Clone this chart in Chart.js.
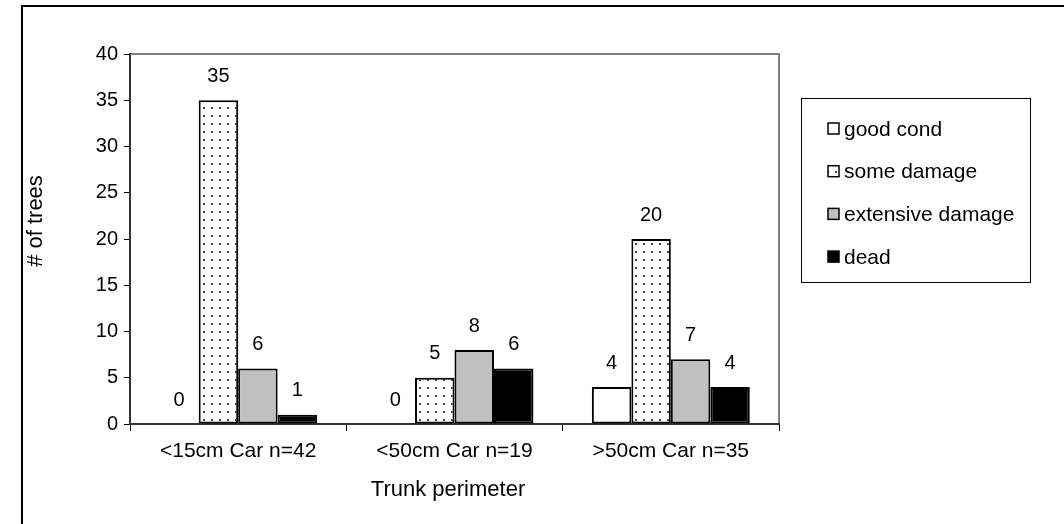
<!DOCTYPE html>
<html lang="en">
<head>
    <meta charset="UTF-8">
    <title>Tree condition by trunk perimeter</title>
    <script src="https://cdn.jsdelivr.net/npm/chart.js"></script>
    <style>
        html, body { margin: 0; padding: 0; background: #fff; }
        #wrap { width: 1064px; height: 524px; }
    </style>
</head>
<body>
    <div id="wrap"><canvas id="grafico"></canvas></div>
    <script>
        // Datos
        const categories = ['<15cm Car n=42', '<50cm Car n=19', '>50cm Car n=35'];
        const seriesNames = ['good cond', 'some damage', 'extensive damage', 'dead'];
        const goodCond = [0, 0, 4];
        const someDamage = [35, 5, 20];
        const extensiveDamage = [6, 8, 7];
        const dead = [1, 6, 4];
        const yMin = 0, yMax = 40, yStep = 5;
        const xTitle = 'Trunk perimeter';
        const yTitle = '# of trees';

        const FONT = "'Liberation Sans', Arial, sans-serif";

        // patron punteado para "some damage"
        function patronPuntos() {
            const c = document.createElement('canvas');
            c.width = 8; c.height = 8;
            const g = c.getContext('2d');
            g.fillStyle = '#fff';
            g.fillRect(0, 0, 8, 8);
            g.fillStyle = '#444';
            g.fillRect(3, 3, 2, 2);
            return g.createPattern(c, 'repeat');
        }

        // marco exterior + borde gris del area de trazado
        const marco = {
            id: 'marco',
            beforeDraw(chart) {
                const ctx = chart.ctx, a = chart.chartArea;
                ctx.save();
                ctx.strokeStyle = '#000';
                ctx.lineWidth = 2;
                ctx.beginPath();
                ctx.moveTo(22, 524); ctx.lineTo(22, 6); ctx.lineTo(1064, 6);
                ctx.stroke();
                ctx.strokeStyle = '#808080';
                ctx.beginPath();
                ctx.moveTo(a.left, a.top); ctx.lineTo(a.right, a.top); ctx.lineTo(a.right, a.bottom);
                ctx.stroke();
                ctx.restore();
            }
        };

        // titulos de los ejes
        const titulos = {
            id: 'titulos',
            afterDraw(chart) {
                const ctx = chart.ctx;
                ctx.save();
                ctx.font = '22px ' + FONT;
                ctx.fillStyle = '#000';
                ctx.textAlign = 'center';
                ctx.textBaseline = 'middle';
                ctx.fillText(xTitle, 448, 490);
                ctx.translate(36, 221);
                ctx.rotate(-Math.PI / 2);
                ctx.fillText(yTitle, 0, 0);
                ctx.restore();
            }
        };

        // etiquetas de valores encima de las barras
        const etiquetas = {
            id: 'etiquetas',
            afterDatasetsDraw(chart) {
                const ctx = chart.ctx;
                ctx.save();
                ctx.font = '20px ' + FONT;
                ctx.fillStyle = '#000';
                ctx.textAlign = 'center';
                ctx.textBaseline = 'middle';
                chart.data.datasets.forEach((ds, i) => {
                    chart.getDatasetMeta(i).data.forEach((bar, j) => {
                        ctx.fillText(String(ds.data[j]), bar.x, bar.y - 24);
                    });
                });
                ctx.restore();
            }
        };

        // leyenda con recuadro
        const leyenda = {
            id: 'leyenda',
            afterDraw(chart) {
                const ctx = chart.ctx;
                const x0 = 801, y0 = 98, w = 229, h = 184;
                ctx.save();
                ctx.strokeStyle = '#000';
                ctx.lineWidth = 1;
                ctx.strokeRect(x0 + 0.5, y0 + 0.5, w, h);
                ctx.font = '21px ' + FONT;
                ctx.textBaseline = 'middle';
                chart.data.datasets.forEach((ds, i) => {
                    const cy = 129 + i * 42.7;
                    ctx.fillStyle = ds.backgroundColor;
                    ctx.fillRect(828, cy - 6, 11, 11);
                    ctx.lineWidth = 1.5;
                    ctx.strokeRect(828, cy - 6, 11, 11);
                    ctx.fillStyle = '#000';
                    ctx.fillText(ds.label, 844, cy + 1);
                });
                ctx.restore();
            }
        };

        const comun = { borderColor: '#000', borderWidth: 2, borderSkipped: false, barPercentage: 1.0, categoryPercentage: 0.73 };

        new Chart(document.getElementById('grafico'), {
            type: 'bar',
            data: {
                labels: categories,
                datasets: [
                    { label: seriesNames[0], data: goodCond, backgroundColor: '#ffffff', ...comun },
                    { label: seriesNames[1], data: someDamage, backgroundColor: patronPuntos(), ...comun },
                    { label: seriesNames[2], data: extensiveDamage, backgroundColor: '#c0c0c0', ...comun },
                    { label: seriesNames[3], data: dead, backgroundColor: '#000000', ...comun }
                ]
            },
            options: {
                responsive: true,
                maintainAspectRatio: false,
                animation: false,
                layout: { padding: { left: 0, top: 54, right: 285, bottom: 0 } },
                plugins: {
                    legend: { display: false },
                    tooltip: { enabled: false }
                },
                scales: {
                    x: {
                        grid: { display: true, drawOnChartArea: false, offset: true, tickLength: 7, color: '#000', lineWidth: 1 },
                        border: { display: true, color: '#333', width: 2 },
                        ticks: { color: '#000', font: { family: FONT, size: 21 }, padding: 8 },
                        afterFit(s) { s.height = 100; }
                    },
                    y: {
                        min: yMin, max: yMax,
                        grid: { display: true, drawOnChartArea: false, tickLength: 6, color: '#000', lineWidth: 1 },
                        border: { display: true, color: '#333', width: 2 },
                        ticks: { stepSize: yStep, color: '#000', font: { family: FONT, size: 20 }, padding: 6 },
                        afterFit(s) { s.width = 130; }
                    }
                }
            },
            plugins: [marco, etiquetas, titulos, leyenda]
        });
    </script>
</body>
</html>
